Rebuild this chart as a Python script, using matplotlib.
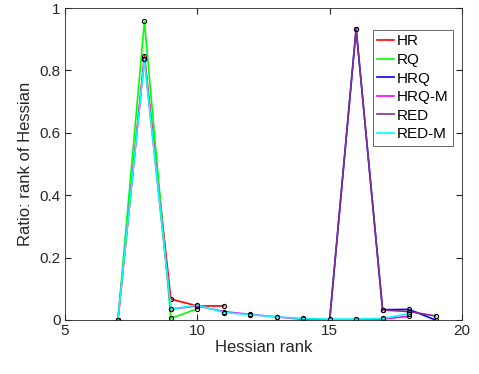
import numpy as np
import matplotlib
matplotlib.use('Agg')
import matplotlib.pyplot as plt

plt.rcParams['font.family'] = ['Liberation Sans', 'DejaVu Sans']

names = ['HR', 'RQ', 'HRQ', 'HRQ-M', 'RED', 'RED-M']
colors = ['#ff0000', '#00ff00', '#0000ff', '#ff00ff', '#7e2f8e', '#00ffff']

hr_x = [7, 8, 9, 10, 11]
hr_y = [0, 0.847, 0.067, 0.045, 0.045]
rq_x = [7, 8, 9, 10]
rq_y = [0, 0.957, 0.005, 0.036]
hrq_x = [15, 16, 17, 18, 19]
hrq_y = [0, 0.933, 0.033, 0.034, 0.0]
hrqm_x = [7, 8, 9, 10, 11, 12, 13, 14, 15, 16, 17, 18]
hrqm_y = [0, 0.838, 0.035, 0.045, 0.027, 0.018, 0.010, 0.002, 0.0, 0.0, 0.003, 0.012]
red_x = [15, 16, 17, 18, 19]
red_y = [0, 0.933, 0.032, 0.027, 0.013]
redm_x = [7, 8, 9, 10, 11, 12, 13, 14, 15, 16, 17, 18]
redm_y = [0, 0.835, 0.035, 0.048, 0.024, 0.017, 0.010, 0.005, 0.003, 0.003, 0.005, 0.020]

xs = [hr_x, rq_x, hrq_x, hrqm_x, red_x, redm_x]
ys = [hr_y, rq_y, hrq_y, hrqm_y, red_y, redm_y]

fig = plt.figure(figsize=(4.79, 3.74), dpi=100)
ax = fig.add_axes([0.1357, 0.1444, 0.8288, 0.8342])

for x, y, c, n in zip(xs, ys, colors, names):
    ax.plot(x, y, '-', color=c, lw=1.2, label=n)
    ax.plot(x, y, 'o', ms=3, mfc='none', mec='black', mew=0.8)

ax.set_xlim(5, 20)
ax.set_ylim(0, 1)
ax.set_xticks([5, 10, 15, 20])
ax.set_yticks([0, 0.2, 0.4, 0.6, 0.8, 1])
ax.set_yticklabels(['0', '0.2', '0.4', '0.6', '0.8', '1'])
ax.tick_params(direction='in', top=True, right=True, labelsize=11, colors='#262626', length=4, pad=3)
for s in ax.spines.values():
    s.set_color('#262626')
    s.set_linewidth(0.6)
ax.set_xlabel('Hessian rank', fontsize=12, color='#262626', labelpad=1)
ax.set_ylabel('Ratio: rank of Hessian', fontsize=12, color='#262626', labelpad=5)

leg = ax.legend(loc='upper right', bbox_to_anchor=(0.978, 0.93), fontsize=11,
                frameon=True, fancybox=False, edgecolor='#262626',
                handlelength=1.1, handletextpad=0.2, borderpad=0.3,
                labelspacing=0.3, borderaxespad=0)
leg.get_frame().set_linewidth(0.6)

fig.savefig('out.png', dpi=100)
